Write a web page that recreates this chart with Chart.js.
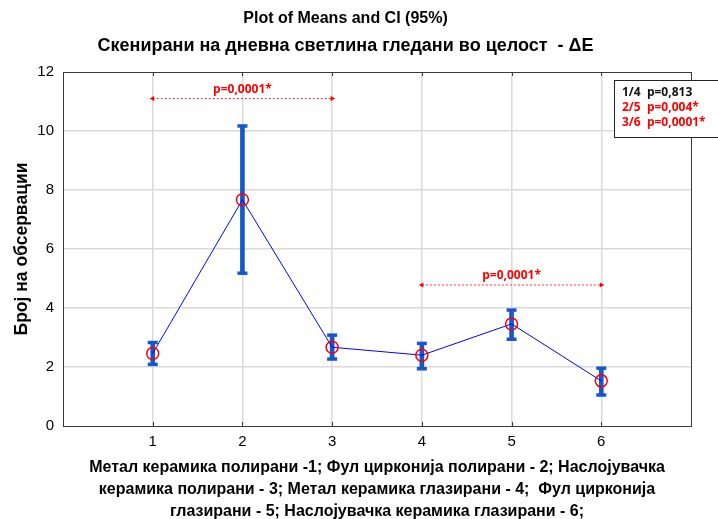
<!DOCTYPE html>
<html>
<head>
<meta charset="utf-8">
<script src="https://cdn.jsdelivr.net/npm/chart.js@4"></script>
<style>
  html, body { margin: 0; padding: 0; background: #ffffff; }
  #wrap { width: 718px; height: 519px; position: relative; }
</style>
</head>
<body>
<div id="wrap"><canvas id="c" width="718" height="519"></canvas></div>
<script>
// ---- data ----
const categories = [1, 2, 3, 4, 5, 6];
const means   = [2.46, 7.67, 2.67, 2.40, 3.46, 1.53];
const ciLower = [2.09, 5.18, 2.27, 1.94, 2.94, 1.05];
const ciUpper = [2.83, 10.17, 3.08, 2.80, 3.93, 1.96];
const xTickLabels = ['1', '2', '3', '4', '5', '6'];
const yTickValues = [0, 2, 4, 6, 8, 10, 12];

const arrowFrom   = [1, 4];
const arrowTo     = [3, 6];
const arrowLevel  = [11.1, 4.78];
const arrowLabels = ['p=0,0001*', 'p=0,0001*'];

const noteLines  = ['1/4  p=0,813', '2/5  p=0,004*', '3/6  p=0,0001*'];
const noteColors = ['#111111', '#ff0000', '#ff0000'];

const titleText    = 'Plot of Means and CI (95%)';
const subtitleText = 'Скенирани на дневна светлина гледани во целост  - ΔE';
const yAxisTitle   = 'Број на обсервации';
const xAxisTitle   = [
  'Метал керамика полирани -1; Фул цирконија полирани - 2; Наслојувачка',
  'керамика полирани - 3; Метал керамика глазирани - 4;  Фул цирконија',
  'глазирани - 5; Наслојувачка керамика глазирани - 6;'
];

// ---- derived datasets ----
const barData   = categories.map((c, i) => ({ x: c, y: [ciLower[i], ciUpper[i]] }));
const capHiData = categories.map((c, i) => ({ x: c, y: ciUpper[i] }));
const capLoData = categories.map((c, i) => ({ x: c, y: ciLower[i] }));
const meanData  = categories.map((c, i) => ({ x: c, y: means[i] }));

const ERR = '#1358cc';
const FONT = "'Liberation Sans', Arial, sans-serif";
const NOTE_FONT = "'Open Sans', 'Liberation Sans', sans-serif";

const datasets = [
  {
    type: 'line', label: 'means', data: meanData, order: 1,
    borderColor: '#0000ff', borderWidth: 1, fill: false, tension: 0,
    pointStyle: 'circle', pointRadius: 6, pointHoverRadius: 6,
    pointBackgroundColor: 'rgba(0,0,0,0)', pointBorderColor: '#ff0000', pointBorderWidth: 1.5
  },
  {
    type: 'bar', label: 'ci', data: barData, order: 2,
    backgroundColor: ERR, borderWidth: 0, barThickness: 4
  },
  {
    type: 'scatter', label: 'capHi', data: capHiData, order: 2,
    pointStyle: 'line', pointRadius: 5, pointHoverRadius: 5, borderColor: ERR, borderWidth: 3.5
  },
  {
    type: 'scatter', label: 'capLo', data: capLoData, order: 2,
    pointStyle: 'line', pointRadius: 5, pointHoverRadius: 5, borderColor: ERR, borderWidth: 3.5
  }
];
arrowFrom.forEach((f, i) => {
  datasets.push({
    type: 'line', label: 'arrow' + i, order: 3,
    data: [{ x: f, y: arrowLevel[i] }, { x: arrowTo[i], y: arrowLevel[i] }],
    borderColor: '#ff3030', borderWidth: 1, borderDash: [2, 2], fill: false,
    pointStyle: 'triangle', pointRotation: [-90, 90], pointRadius: 3, pointHoverRadius: 3,
    pointBackgroundColor: '#ff0000', pointBorderColor: '#ff0000', pointBorderWidth: 0
  });
});

const framePlugin = {
  id: 'frame',
  afterDatasetsDraw(chart) {
    const { ctx, chartArea: a, scales } = chart;
    ctx.save();
    // arrow labels
    ctx.fillStyle = '#ff0000';
    ctx.font = 'bold 12px ' + NOTE_FONT;
    ctx.textAlign = 'center';
    ctx.textBaseline = 'middle';
    arrowFrom.forEach((f, i) => {
      const cx = scales.x.getPixelForValue((f + arrowTo[i]) / 2);
      const cy = scales.y.getPixelForValue(arrowLevel[i]);
      ctx.fillText(arrowLabels[i], cx, cy - 9);
    });
    // frame
    ctx.strokeStyle = '#3a3a3a';
    ctx.lineWidth = 1;
    ctx.strokeRect(Math.round(a.left) + 0.5, Math.round(a.top) + 0.5,
                   Math.round(a.right - a.left), Math.round(a.bottom - a.top));
    // small tick marks on top and bottom edges
    categories.forEach(c => {
      const px = Math.round(scales.x.getPixelForValue(c)) + 0.5;
      ctx.beginPath();
      ctx.moveTo(px, a.bottom); ctx.lineTo(px, a.bottom - 4);
      ctx.moveTo(px, a.top); ctx.lineTo(px, a.top + 4);
      ctx.stroke();
    });
    // note box
    ctx.fillStyle = '#ffffff';
    ctx.fillRect(614.5, 80.5, 120, 57);
    ctx.strokeStyle = '#222222';
    ctx.strokeRect(614.5, 80.5, 120, 57);
    ctx.font = 'bold 12px ' + NOTE_FONT;
    ctx.textAlign = 'left';
    noteLines.forEach((t, i) => {
      ctx.fillStyle = noteColors[i];
      ctx.fillText(t, 622, 93 + i * 15);
    });
    ctx.restore();
  }
};

new Chart(document.getElementById('c'), {
  type: 'scatter',
  data: { datasets },
  plugins: [framePlugin],
  options: {
    responsive: false,
    animation: false,
    devicePixelRatio: 1,
    layout: { padding: { left: 0, right: 27, top: 0, bottom: 0 } },
    plugins: {
      legend: { display: false },
      tooltip: { enabled: false },
      title: {
        display: true, text: titleText, color: '#000',
        font: { family: FONT, size: 16, weight: 'bold', lineHeight: 1.2 },
        padding: { top: 9.4, bottom: 0 }
      },
      subtitle: {
        display: true, text: subtitleText, color: '#000',
        font: { family: FONT, size: 18, weight: 'bold', lineHeight: 1.2 },
        padding: { top: 6.6, bottom: 15.2 }
      }
    },
    scales: {
      x: {
        type: 'linear', min: 0, max: 7, offset: false,
        afterFit(s) { s.height = 93; },
        afterBuildTicks(s) { s.ticks = [0, 1, 2, 3, 4, 5, 6, 7].map(v => ({ value: v })); },
        border: { display: false },
        grid: {
          offset: false, drawTicks: false, lineWidth: 1.5,
          color: c => (c.tick && (c.tick.value === 0 || c.tick.value === 7)) ? 'rgba(0,0,0,0)' : '#dadada'
        },
        ticks: {
          padding: 7, color: '#000', maxRotation: 0, autoSkip: false,
          font: { family: FONT, size: 15 },
          callback: v => { const i = categories.indexOf(v); return i >= 0 ? xTickLabels[i] : ''; }
        },
        title: {
          display: true, text: xAxisTitle, color: '#000',
          font: { family: FONT, size: 16, weight: 'bold', lineHeight: 1.35 },
          padding: { top: 0, bottom: -3 }
        }
      },
      y: {
        type: 'linear', min: 0, max: 12,
        afterFit(s) { s.width = 63; },
        afterBuildTicks(s) { s.ticks = yTickValues.map(v => ({ value: v })); },
        border: { display: false },
        grid: {
          drawTicks: false, lineWidth: 1.5,
          color: c => (c.tick && (c.tick.value === 0 || c.tick.value === 12)) ? 'rgba(0,0,0,0)' : '#dadada'
        },
        ticks: { padding: 9, color: '#000', font: { family: FONT, size: 15 } },
        title: {
          display: true, text: yAxisTitle, color: '#000',
          font: { family: FONT, size: 17.5, weight: 'bold', lineHeight: 1.2 },
          padding: { top: 11.5, bottom: 0 }
        }
      }
    }
  }
});
</script>
</body>
</html>
